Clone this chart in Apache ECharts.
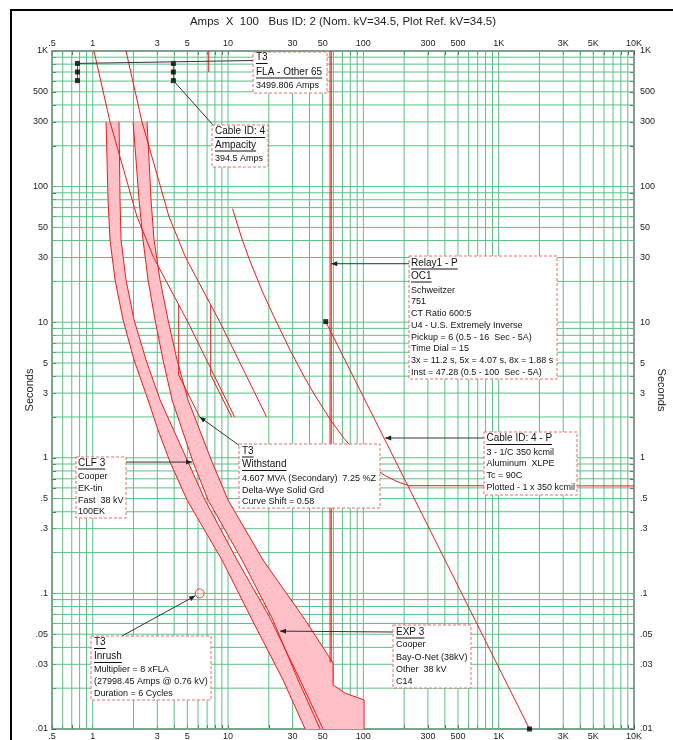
<!DOCTYPE html>
<html><head><meta charset="utf-8">
<script src="https://cdn.jsdelivr.net/npm/echarts@6/dist/echarts.min.js"></script>
<style>html,body{margin:0;padding:0;background:#fff}#c{width:673px;height:740px}</style>
</head><body><div id="c"></div>
<script>
// ---------- axis tick labels ----------
const xTickValues = [0.5,1,3,5,10,30,50,100,300,500,1000,3000,5000,10000];
const xTickLabels = ['.5','1','3','5','10','30','50','100','300','500','1K','3K','5K','10K'];
const yTickValues = [0.01,0.03,0.05,0.1,0.3,0.5,1,3,5,10,30,50,100,300,500,1000];
const yTickLabels = ['.01','.03','.05','.1','.3','.5','1','3','5','10','30','50','100','300','500','1K'];

// ---------- data (Amps x 100, Seconds) ----------
// T3 transformer damage curve (unshifted) - thermal and mechanical parts
const t3Damage = [[1.542,1800],[2.313,300],[3.662,60],[4.857,30],[8.712,10],[19.28,2]];
const t3DamageMech = [[7.444,13.4],[7.444,4.08],[10.63,2.0]];
// T3 damage curve shifted by 0.58
const t3DamageShifted = [[0.894,1800],[1.342,300],[2.124,60],[2.817,30],[5.053,10],[11.18,2]];
const t3DamageShiftedMech = [[4.318,13.4],[4.318,4.08],[6.166,2.0]];
// CLF 3 fuse band
const clfLeft = [[1.254,300],[1.276,157],[1.298,79.6],[1.342,40.4],[1.462,20.5],[1.675,10.4],[2.020,5.26],[2.563,2.67],[3.038,1.60],[3.727,0.931],[4.977,0.488],[9.03,0.176],[15.04,0.0639],[25.5,0.023],[37.1,0.01]];
const clfRight = [[1.564,300],[1.578,157],[1.591,79.6],[1.619,40.4],[1.762,20.5],[2.020,10.4],[2.477,5.26],[3.144,2.67],[5.062,0.931],[6.761,0.488],[11.66,0.176],[20.44,0.0658],[34.06,0.023],[50.36,0.01]];
// EXP 3 fuse band
const expLeft = [[1.986,300],[2.089,157],[2.199,79.6],[2.354,40.4],[2.563,20.5],[2.886,10.4],[3.308,5.26],[3.856,2.67],[5.512,0.931],[7.114,0.488],[12.69,0.176],[21.14,0.0658],[32.92,0.023],[47.86,0.01]];
const expRight = [[2.519,300],[2.607,157],[2.697,79.6],[2.839,40.4],[3.144,20.5],[3.602,10.4],[4.200,5.26],[5.062,2.67],[7.617,0.931],[10.0,0.488],[18.14,0.176],[37.08,0.0639],[59.7,0.0307],[59.7,0.0211],[73.2,0.0184],[101.2,0.01637],[101.2,0.01]];
// Relay1 - P OC1 curve
const relayCurve = [[10.8,68.6],[12.6,41.8],[14.4,28.9],[18,16.7],[21.6,11.2],[28.8,6.2],[36,4.07],[43.2,2.96],[57.6,1.88],[72,1.39],[86.4,1.12],[108,0.906],[144,0.741],[180,0.664],[216,0.623],[10000,0.62]];
const relayInstA = [[56.7,1000],[56.7,0.031]];
const relayInstB = [[57.9,1000],[57.9,0.031]];
const relayPickupMark = [[7.2,1000],[7.2,700]];
// Cable ID: 4 damage curve
const cableDamage = [[52.7,10.1],[1690,0.01]];
// FLA and ampacity markers
const flaMarks = [[0.771,810],[0.771,700],[0.771,605]];
const ampacityMarks = [[3.945,810],[3.945,700],[3.945,605]];
// Inrush point
const inrushPoint = [[6.17,0.1]];
// annotation targets
const relayTip = [57.9,27];
const withstandTip = [6.166,2.0];
const clfTip = [5.42,0.93];
const cableTip = [144.9,1.40];
const expTip = [24.2,0.0527];

// ---------- styling ----------
const FONT = '"Liberation Sans", Arial, sans-serif';
const RED = '#f01a1a';
const PINK = '#ffc0c8';
const GRID = '#5cbf86';

function decadeValues(lo, hi) {
  const out = [];
  for (let e = -3; e <= 4; e++) {
    for (let m = 1; m <= 9; m++) {
      const v = parseFloat((m * Math.pow(10, e)).toPrecision(6));
      if (v >= lo - 1e-12 && v <= hi + 1e-9) out.push(v);
    }
  }
  return out;
}
const gridX = decadeValues(0.5, 10000);
const gridY = decadeValues(0.01, 1000);

function makeFmt(vals, labels) {
  return function (v) {
    for (let i = 0; i < vals.length; i++) {
      if (Math.abs(Math.log10(v) - Math.log10(vals[i])) < 0.005) return labels[i];
    }
    return '';
  };
}

function xAxisDef(pos) {
  return {
    type: 'log', logBase: 10, min: 0.5, max: 10000, position: pos,
    axisLine: {show: true, onZero: false, lineStyle: {color: '#8a9894', width: 2}},
    axisTick: {show: true, inside: true, length: 4, customValues: gridX, lineStyle: {color: '#555', width: 1}},
    axisLabel: {show: true, customValues: xTickValues, formatter: makeFmt(xTickValues, xTickLabels), fontSize: 9, color: '#222', fontFamily: FONT, margin: 3},
    splitLine: {show: false}, minorTick: {show: false}, minorSplitLine: {show: false}
  };
}
function yAxisDef(pos) {
  return {
    type: 'log', logBase: 10, min: 0.01, max: 1000, position: pos,
    name: 'Seconds', nameLocation: 'middle', nameGap: pos === 'left' ? 17 : 22, nameRotate: pos === 'left' ? 90 : -90,
    nameMoveOverlap: false,
    nameTextStyle: {fontSize: 11, color: '#222', fontFamily: FONT},
    axisLine: {show: true, onZero: false, lineStyle: {color: '#8a9894', width: 2}},
    axisTick: {show: true, inside: true, length: 4, customValues: gridY, lineStyle: {color: '#555', width: 1}},
    axisLabel: {show: true, customValues: yTickValues, formatter: makeFmt(yTickValues, yTickLabels), fontSize: 9, color: '#222', fontFamily: FONT, margin: pos === 'left' ? 4 : 6},
    splitLine: {show: false}, minorTick: {show: false}, minorSplitLine: {show: false}
  };
}

function lineSeries(data, extra) {
  return Object.assign({
    type: 'line', data: data, xAxisIndex: 0, yAxisIndex: 0, showSymbol: false, symbol: 'none',
    lineStyle: {color: RED, width: 1}, silent: true, z: 5, clip: true, animation: false
  }, extra || {});
}
function bandSeries(left, right) {
  const poly = left.concat(right.slice().reverse());
  return {
    type: 'custom', xAxisIndex: 0, yAxisIndex: 0, data: [left[0]], clip: true, silent: true, z: 3,
    renderItem: function (params, api) {
      return {type: 'polygon', shape: {points: poly.map(p => api.coord(p))}, style: {fill: PINK}};
    }
  };
}
const gridSeries = {
  type: 'custom', xAxisIndex: 0, yAxisIndex: 0, data: [[1, 1]], clip: true, silent: true, z: 1,
  renderItem: function (params, api) {
    const ch = [];
    gridX.forEach(v => {
      const a = api.coord([v, 0.01]), b = api.coord([v, 1000]);
      ch.push({type: 'line', shape: {x1: a[0], y1: a[1], x2: b[0], y2: b[1]}, style: {stroke: GRID, lineWidth: 1}});
    });
    gridY.forEach(v => {
      const a = api.coord([0.5, v]), b = api.coord([10000, v]);
      ch.push({type: 'line', shape: {x1: a[0], y1: a[1], x2: b[0], y2: b[1]}, style: {stroke: GRID, lineWidth: 1}});
    });
    return {type: 'group', children: ch};
  }
};

const series = [
  gridSeries,
  bandSeries(clfLeft, clfRight),
  bandSeries(expLeft, expRight),
  lineSeries(clfLeft), lineSeries(clfRight),
  lineSeries(expLeft), lineSeries(expRight),
  lineSeries(t3Damage), lineSeries(t3DamageMech),
  lineSeries(t3DamageShifted), lineSeries(t3DamageShiftedMech),
  lineSeries(relayCurve),
  lineSeries(relayInstA), lineSeries(relayInstB),
  lineSeries(relayPickupMark),
  lineSeries(cableDamage),
  lineSeries(flaMarks), lineSeries(ampacityMarks),
  {type: 'scatter', data: flaMarks.concat(ampacityMarks).concat(cableDamage), symbol: 'rect', symbolSize: 5,
   itemStyle: {color: '#000'}, silent: true, z: 6, clip: false},
  {type: 'scatter', data: inrushPoint, symbol: 'circle', symbolSize: 9,
   itemStyle: {color: 'rgba(255,210,210,0.4)', borderColor: RED, borderWidth: 1}, silent: true, z: 6}
];

const chart = echarts.init(document.getElementById('c'), null, {renderer: 'canvas'});
chart.setOption({
  animation: false,
  backgroundColor: '#fff',
  grid: {left: 52, top: 51, right: 39, bottom: 11, containLabel: false, outerBoundsMode: 'none'},
  xAxis: [xAxisDef('bottom'), xAxisDef('top')],
  yAxis: [yAxisDef('left'), yAxisDef('right')],
  series: series
});

// ---------- annotations ----------
const measureCtx = document.createElement('canvas').getContext('2d');
function textWidth(t, size) { measureCtx.font = size + 'px ' + FONT; return measureCtx.measureText(t).width; }
const px = p => chart.convertToPixel({gridIndex: 0}, p);

const boxes = [
  {x: 253, y: 52, w: 74, h: 41, tx: 256, lines: [['T3', 1, 57.5], ['FLA - Other 65', 1, 72], ['3499.806 Amps', 0, 86]]},
  {x: 212, y: 125, w: 56, h: 42, tx: 215, lines: [['Cable ID: 4', 1, 131.5], ['Ampacity', 1, 145], ['394.5 Amps', 0, 159]]},
  {x: 409, y: 256, w: 148, h: 123, tx: 411, lines: [['Relay1 - P', 1, 263], ['OC1', 1, 276], ['Schweitzer', 0, 290.5], ['751', 0, 302], ['CT Ratio 600:5', 0, 313.5], ['U4 - U.S. Extremely Inverse', 0, 325.5], ['Pickup = 6 (0.5 - 16  Sec - 5A)', 0, 337.5], ['Time Dial = 15', 0, 349], ['3x = 11.2 s, 5x = 4.07 s, 8x = 1.88 s', 0, 360.5], ['Inst = 47.28 (0.5 - 100  Sec - 5A)', 0, 372.5]]},
  {x: 239, y: 444, w: 141, h: 64, tx: 242, lines: [['T3', 1, 451], ['Withstand', 1, 464.5], ['4.607 MVA (Secondary)  7.25 %Z', 0, 479], ['Delta-Wye Solid Grd', 0, 490.5], ['Curve Shift = 0.58', 0, 502]]},
  {x: 76, y: 457, w: 50, h: 61, tx: 78, lines: [['CLF 3', 1, 463], ['Cooper', 0, 477], ['EK-tin', 0, 489], ['Fast  38 kV', 0, 500.5], ['100EK', 0, 512]]},
  {x: 484, y: 432, w: 93, h: 63, tx: 486.5, lines: [['Cable ID: 4 - P', 1, 438.5], ['3 - 1/C 350 kcmil', 0, 452.5], ['Aluminum  XLPE', 0, 464], ['Tc = 90C', 0, 476], ['Plotted - 1 x 350 kcmil', 0, 487.5]]},
  {x: 91, y: 636, w: 120, h: 64, tx: 94, lines: [['T3', 1, 642.5], ['Inrush', 1, 656.5], ['Multiplier = 8 xFLA', 0, 670], ['(27998.45 Amps @ 0.76 kV)', 0, 682], ['Duration = 6 Cycles', 0, 694]]},
  {x: 393, y: 625, w: 78, h: 63, tx: 396, lines: [['EXP 3', 1, 632], ['Cooper', 0, 645], ['Bay-O-Net (38kV)', 0, 658], ['Other  38 kV', 0, 670], ['C14', 0, 682]]}
];

const g = [];
// outer frame
g.push({type: 'rect', z: 200, shape: {x: 11, y: 10, width: 700, height: 800}, style: {fill: 'none', stroke: '#000', lineWidth: 2}});
// title
g.push({type: 'text', z: 200, x: 343, y: 22, style: {text: 'Amps  X  100   Bus ID: 2 (Nom. kV=34.5, Plot Ref. kV=34.5)', font: '11.5px ' + FONT, fill: '#222', align: 'center', verticalAlign: 'middle', textAlign: 'center', textVerticalAlign: 'middle'}});

function leader(x1, y1, tip, arrow) {
  const [x2, y2] = tip;
  g.push({type: 'line', z: 150, shape: {x1: x1, y1: y1, x2: x2, y2: y2}, style: {stroke: '#333', lineWidth: 1}});
  if (arrow) {
    const a = Math.atan2(y2 - y1, x2 - x1), L = 6, W = 2.5;
    const bx = x2 - L * Math.cos(a), by = y2 - L * Math.sin(a);
    g.push({type: 'polygon', z: 151, shape: {points: [[x2, y2], [bx - W * Math.sin(a), by + W * Math.cos(a)], [bx + W * Math.sin(a), by - W * Math.cos(a)]]}, style: {fill: '#222'}});
  }
}
const fla0 = px(flaMarks[0]);
leader(fla0[0], fla0[1], [253, 60.5], false);
const amp2 = px(ampacityMarks[2]);
leader(amp2[0], amp2[1], [213, 125], false);
const rT = px(relayTip); leader(409, rT[1], rT, true);
const wT = px(withstandTip); leader(240, 446, wT, true);
const cT = px(clfTip); leader(126, cT[1], cT, true);
const kT = px(cableTip); leader(484, kT[1], kT, true);
const iC = px(inrushPoint[0]);
(function () {
  const sx = 122, sy = 636, a = Math.atan2(iC[1] - sy, iC[0] - sx);
  leader(sx, sy, [iC[0] - 5 * Math.cos(a), iC[1] - 5 * Math.sin(a)], true);
})();
const eT = px(expTip); leader(393, 632, eT, true);

boxes.forEach(b => {
  g.push({type: 'rect', z: 160, shape: {x: b.x, y: b.y, width: b.w, height: b.h}, style: {fill: '#fff', stroke: '#ee6d6d', lineWidth: 1, lineDash: [3, 2]}});
  b.lines.forEach(([t, u, y]) => {
    const size = u ? 10 : 9;
    g.push({type: 'text', z: 161, x: b.tx, y: y, style: {text: t, font: size + 'px ' + FONT, fill: '#111', align: 'left', verticalAlign: 'middle', textAlign: 'left', textVerticalAlign: 'middle'}});
    if (u) {
      const w = textWidth(t, size);
      g.push({type: 'line', z: 161, shape: {x1: b.tx, y1: y + 6, x2: b.tx + w, y2: y + 6}, style: {stroke: '#111', lineWidth: 1}});
    }
  });
});
chart.setOption({graphic: {elements: g}});
</script></body></html>
